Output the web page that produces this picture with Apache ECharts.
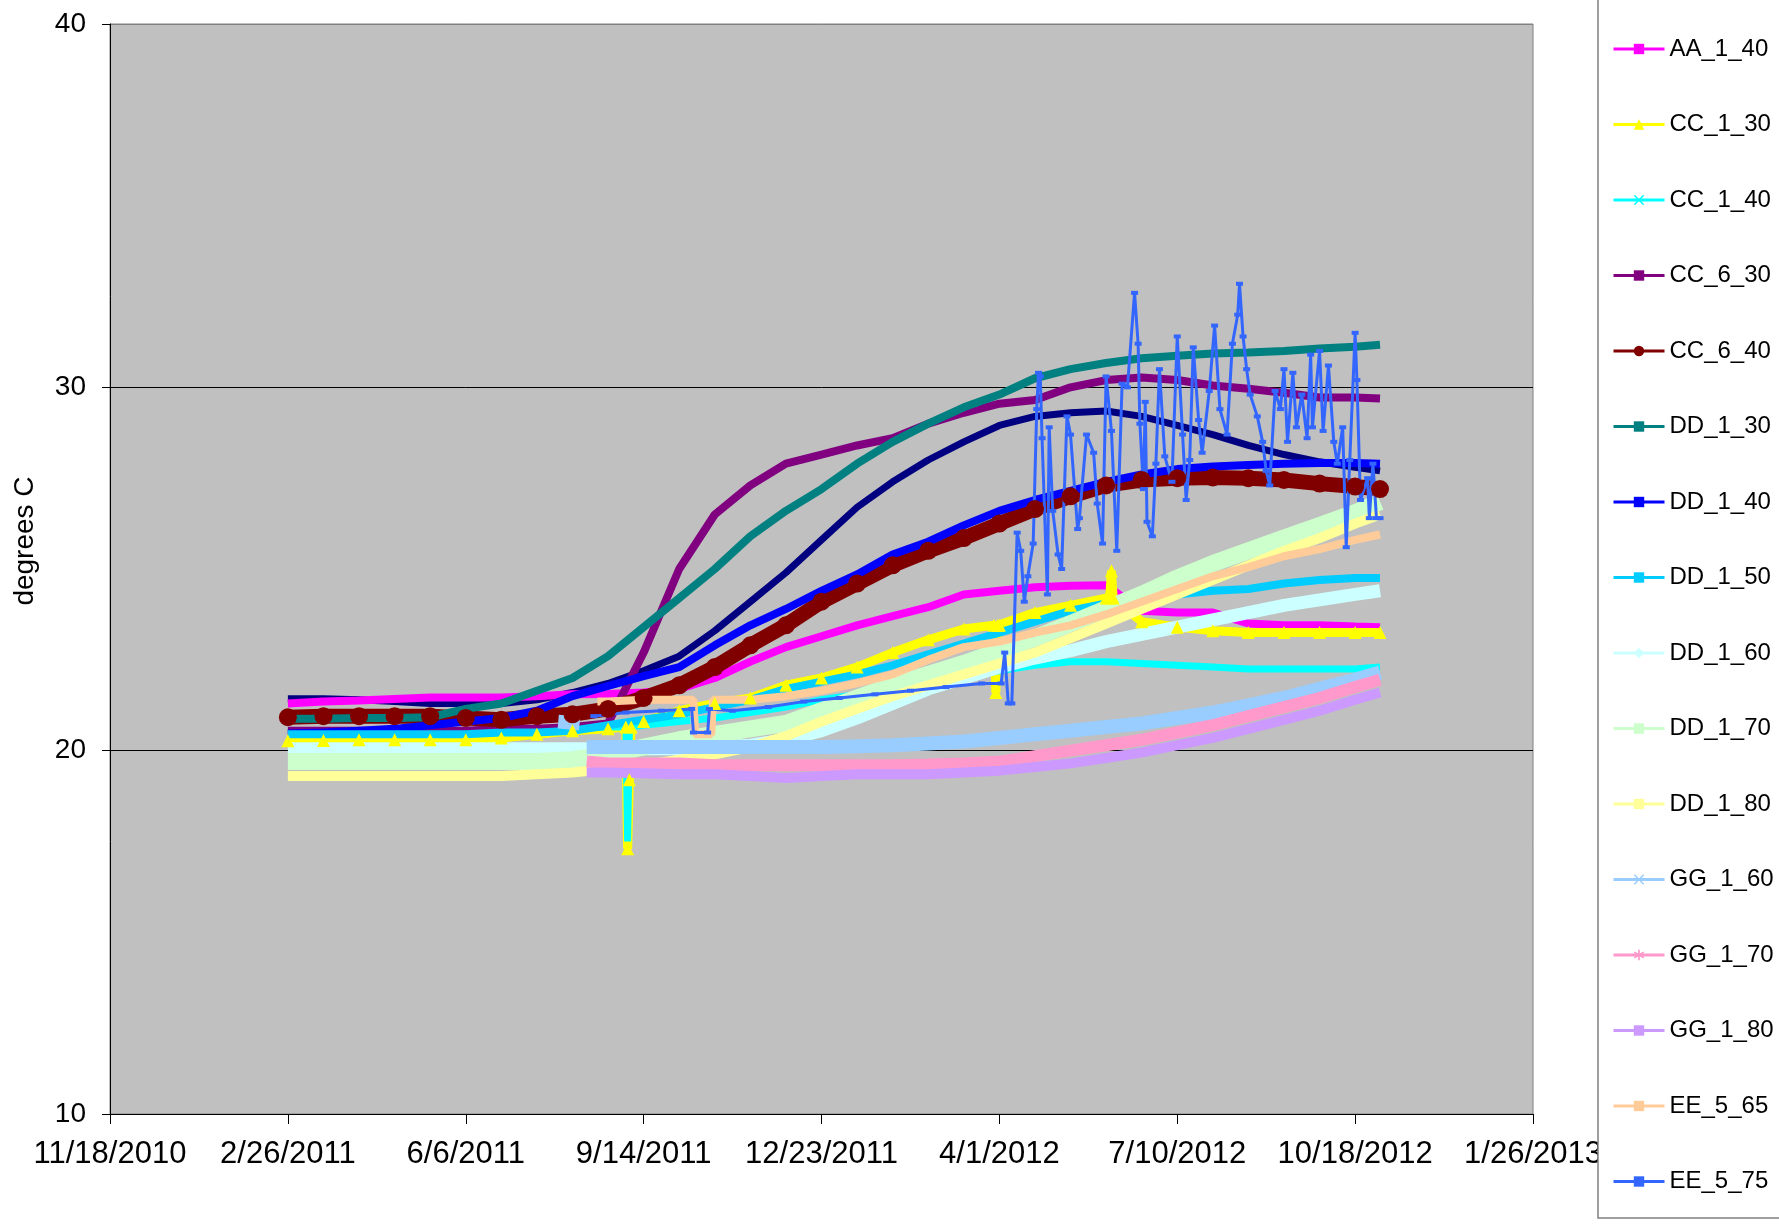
<!DOCTYPE html>
<html>
<head>
<meta charset="utf-8">
<title>degrees C</title>
<script src="https://cdn.jsdelivr.net/npm/echarts@6/dist/echarts.min.js"></script>
<style>
  html, body { margin: 0; padding: 0; background: #fff; }
  #chart { width: 1779px; height: 1225px; }
</style>
</head>
<body>
<div id="chart"></div>
<script>
// x values are Excel serial dates (40500 = 11/18/2010)
const dates = [40600, 40620, 40640, 40660, 40680, 40700, 40720, 40740, 40760, 40780,
  40800, 40820, 40840, 40860, 40880, 40900, 40920, 40940, 40960, 40980,
  41000, 41020, 41040, 41060, 41080, 41100, 41120, 41140, 41160, 41180, 41200, 41214];

// series read at the dates above (null = no reading yet)
const unlisted = [21.43, 21.43, 21.4, 21.35, 21.3, 21.3, 21.3, 21.4, 21.6, 21.85,
  22.2, 22.6, 23.3, 24.1, 24.9, 25.8, 26.7, 27.4, 28.0, 28.5,
  28.95, 29.2, 29.3, 29.35, 29.2, 28.95, 28.7, 28.4, 28.15, 27.95, 27.8, 27.7];
const aa140 = [21.3, 21.35, 21.38, 21.42, 21.46, 21.46, 21.46, 21.5, 21.55, 21.56,
  21.6, 21.7, 22.0, 22.45, 22.85, 23.15, 23.45, 23.7, 23.95, 24.3,
  24.4, 24.5, 24.54, 24.55, 23.85, 23.8, 23.8, 23.5, 23.45, 23.45, 23.42, 23.4];
const cc130 = [20.27, 20.28, 20.3, 20.3, 20.3, 20.3, 20.35, 20.45, 20.55, 20.6,
  20.8, 21.1, 21.3, 21.45, 21.8, 22.0, 22.3, 22.7, 23.05, 23.35,
  23.45, 23.8, 24.0, 24.2, 23.55, 23.4, 23.3, 23.25, 23.25, 23.25, 23.25, 23.25];
const cc140 = [20.5, 20.5, 20.5, 20.5, 20.5, 20.52, 20.55, 20.55, 20.6, 20.65,
  20.7, 20.8, 20.9, 21.05, 21.2, 21.4, 21.55, 21.75, 21.9, 22.05,
  22.2, 22.35, 22.45, 22.45, 22.4, 22.35, 22.3, 22.25, 22.25, 22.25, 22.25, 22.3];
const cc630 = [20.55, 20.55, 20.55, 20.55, 20.55, 20.55, 20.6, 20.6, 20.65, 20.75,
  22.7, 25.0, 26.5, 27.3, 27.9, 28.15, 28.4, 28.6, 29.0, 29.3,
  29.55, 29.65, 30.0, 30.2, 30.27, 30.2, 30.05, 29.96, 29.85, 29.72, 29.72, 29.69];
const cc640 = [20.92, 20.95, 20.95, 20.95, 20.95, 20.9, 20.85, 20.95, 21.0, 21.15,
  21.45, 21.8, 22.3, 22.9, 23.45, 24.1, 24.6, 25.1, 25.5, 25.85,
  26.25, 26.65, 27.0, 27.3, 27.45, 27.5, 27.52, 27.5, 27.45, 27.35, 27.27, 27.2];
const dd130 = [20.88, 20.88, 20.9, 20.9, 20.92, 21.15, 21.3, 21.65, 22.0, 22.6,
  23.4, 24.2, 25.0, 25.9, 26.6, 27.2, 27.9, 28.5, 29.0, 29.45,
  29.8, 30.25, 30.5, 30.67, 30.8, 30.87, 30.93, 30.96, 31.0, 31.07, 31.12, 31.17];
const dd140 = [20.47, 20.5, 20.55, 20.6, 20.7, 20.8, 20.9, 21.1, 21.5, 21.78,
  22.05, 22.3, 22.9, 23.45, 23.9, 24.4, 24.85, 25.4, 25.75, 26.2,
  26.6, 26.9, 27.15, 27.4, 27.6, 27.75, 27.82, 27.86, 27.9, 27.92, 27.92, 27.9];
const dd150 = [20.45, 20.45, 20.45, 20.45, 20.45, 20.45, 20.5, 20.5, 20.55, 20.7,
  20.85, 21.0, 21.2, 21.4, 21.7, 21.9, 22.1, 22.35, 22.65, 22.95,
  23.25, 23.55, 23.85, 24.05, 24.2, 24.3, 24.4, 24.45, 24.6, 24.7, 24.75, 24.75];
const dd160 = [20.05, 20.05, 20.05, 20.05, 20.05, 20.05, 20.05, 20.05, 20.05, 20.05,
  20.05, 20.05, 20.1, 20.15, 20.3, 20.55, 20.9, 21.3, 21.7, 22.0,
  22.3, 22.55, 22.75, 23.0, 23.2, 23.4, 23.6, 23.8, 24.0, 24.15, 24.3, 24.4];
const dd170 = [19.7, 19.7, 19.7, 19.7, 19.7, 19.7, 19.7, 19.7, 19.75, 19.9,
  20.1, 20.3, 20.45, 20.6, 20.75, 21.1, 21.45, 21.8, 22.1, 22.4,
  22.75, 23.1, 23.5, 23.9, 24.3, 24.75, 25.15, 25.5, 25.85, 26.2, 26.55, 26.85];
const dd180 = [19.3, 19.3, 19.3, 19.3, 19.3, 19.3, 19.3, 19.35, 19.4, 19.5,
  19.6, 19.75, 19.9, 20.1, 20.4, 20.8, 21.15, 21.5, 21.8, 22.1,
  22.4, 22.7, 23.1, 23.5, 23.9, 24.3, 24.7, 25.1, 25.5, 25.85, 26.25, 26.5];
const gg160 = [null, null, null, null, null, null, null, null, null, 20.1,
  20.1, 20.1, 20.1, 20.1, 20.1, 20.1, 20.12, 20.15, 20.2, 20.25,
  20.35, 20.45, 20.55, 20.65, 20.75, 20.9, 21.05, 21.25, 21.45, 21.7, 21.95, 22.15];
const gg170 = [null, null, null, null, null, null, null, null, null, 19.65,
  19.65, 19.65, 19.6, 19.6, 19.6, 19.6, 19.6, 19.6, 19.62, 19.65,
  19.7, 19.85, 20.0, 20.15, 20.3, 20.5, 20.7, 20.95, 21.2, 21.45, 21.75, 21.95];
const gg180 = [null, null, null, null, null, null, null, null, null, 19.4,
  19.38, 19.35, 19.35, 19.3, 19.25, 19.3, 19.35, 19.35, 19.35, 19.4,
  19.45, 19.55, 19.65, 19.8, 19.95, 20.15, 20.35, 20.6, 20.85, 21.1, 21.4, 21.6];
const ee565 = [null, null, null, null, null, null, null, null, null, 21.35,
  21.4, 21.4, 21.4, 21.4, 21.5, 21.65, 21.85, 22.1, 22.5, 22.85,
  23.0, 23.25, 23.45, 23.75, 24.1, 24.45, 24.8, 25.05, 25.35, 25.55, 25.8, 25.95];

// odd single readings (spikes, starts, glitches) as [date, value]
const cc130Extra = [[40790, 20.65], [40791, 17.3], [40792, 19.2], [40793, 20.65],
  [40997, 23.45], [40998, 21.6], [40999, 23.45], [41062, 24.2], [41063, 24.95], [41064, 24.2]];
const cc140Extra = [[40790, 20.65], [40791, 17.5], [40792, 20.65]];
const gg160Extra = [[40752, 20.8], [40764, 20.75], [40766, '-'], [40768, 20.1]];
const gg170Extra = [[40768, 19.7]];
const gg180Extra = [[40768, 19.4]];
const ee565Extra = [[40774, 21.35], [40828, 21.4], [40829, 20.45], [40838, 20.45], [40839, 21.4]];

// EE_5_75 is noisy, so it has its own dates
const ee575Dates = [40772, 40790, 40810, 40827, 40828, 40836, 40837, 40850, 40870, 40890,
  40910, 40930, 40950, 40970, 40990, 41001, 41003, 41005, 41007, 41010,
  41012, 41014, 41016, 41019, 41021, 41022, 41023, 41024, 41027, 41028,
  41030, 41033, 41035, 41038, 41040, 41044, 41045, 41049, 41053, 41055,
  41058, 41060, 41063, 41066, 41069, 41072, 41076, 41078, 41079, 41081,
  41082, 41083, 41086, 41088, 41090, 41093, 41097, 41100, 41103, 41105,
  41107, 41109, 41112, 41114, 41118, 41121, 41124, 41128, 41131, 41134,
  41135, 41137, 41139, 41141, 41145, 41148, 41150, 41152, 41155, 41158,
  41160, 41162, 41165, 41167, 41170, 41173, 41175, 41176, 41180, 41182,
  41185, 41188, 41190, 41193, 41195, 41197, 41200, 41201, 41203, 41207,
  41208, 41210, 41212, 41214];
const ee575 = [20.95, 21.05, 21.1, 21.15, 20.5, 20.5, 21.15, 21.1, 21.2, 21.35,
  21.45, 21.55, 21.65, 21.75, 21.85, 21.85, 22.7, 21.3, 21.3, 26.0,
  25.5, 24.1, 24.8, 25.7, 29.4, 30.4, 30.3, 28.6, 24.3, 28.9,
  26.6, 25.4, 25.0, 29.2, 28.7, 26.1, 26.4, 28.7, 28.2, 26.8,
  25.7, 30.3, 28.8, 25.5, 30.1, 30.0, 32.6, 31.2, 29.0, 27.2,
  29.6, 26.3, 25.9, 27.9, 30.5, 28.1, 27.4, 31.4, 28.7, 26.9,
  28.0, 31.1, 29.1, 28.2, 29.9, 31.7, 29.4, 28.7, 31.2, 32.0,
  32.85, 31.4, 30.5, 29.8, 29.2, 28.5, 27.7, 27.3, 29.9, 29.4,
  30.5, 28.5, 30.4, 28.9, 29.8, 28.6, 30.9, 28.9, 31.0, 28.8,
  30.6, 28.5, 27.9, 28.9, 25.6, 28.0, 31.5, 30.2, 26.9, 27.5,
  26.4, 27.9, 26.4, 26.4];

const legendNames = ['AA_1_40', 'CC_1_30', 'CC_1_40', 'CC_6_30', 'CC_6_40', 'DD_1_30', 'DD_1_40', 'DD_1_50',
  'DD_1_60', 'DD_1_70', 'DD_1_80', 'GG_1_60', 'GG_1_70', 'GG_1_80', 'EE_5_65', 'EE_5_75'];

const FONT = '"Liberation Sans", Arial, sans-serif';
const X_MARK = 'path://M0,1L1,0L5,4L9,0L10,1L6,5L10,9L9,10L5,6L1,10L0,9L4,5Z';
const STAR_MARK = 'path://M4.2,0H5.8V3.6L9,1.6L9.8,3L6.6,5L9.8,7L9,8.4L5.8,6.4V10H4.2V6.4L1,8.4L0.2,7L3.4,5L0.2,3L1,1.6L4.2,3.6Z';

// merge the date grid with any extra readings
const build = (vals, extra) => {
  const pts = dates.map((d, i) => [d, vals[i]]).filter((p) => p[1] !== null);
  if (extra) pts.push(...extra);
  pts.sort((a, b) => a[0] - b[0]);
  return pts;
};

const serialToText = (v) => {
  const d = new Date(Date.UTC(1899, 11, 30) + v * 86400000);
  return `${d.getUTCMonth() + 1}/${d.getUTCDate()}/${d.getUTCFullYear()}`;
};

const line = (name, color, data, width, symbol, symbolSize, showSymbol) => ({
  name,
  type: 'line',
  data,
  symbol,
  symbolSize,
  showSymbol: !!showSymbol,
  animation: false,
  silent: true,
  lineStyle: { color, width, join: 'bevel' },
  itemStyle: { color },
  emphasis: { disabled: true }
});

const series = [
  line('unlisted', '#000080', build(unlisted), 7, 'rect', 4),
  line('AA_1_40', '#FF00FF', build(aa140), 8, 'rect', 5),
  line('CC_1_30', '#FFFF00', build(cc130, cc130Extra), 9, 'triangle', 13, true),
  line('CC_1_40', '#00FFFF', build(cc140, cc140Extra), 7, X_MARK, 10),
  line('CC_6_30', '#800080', build(cc630), 8, 'rect', 5),
  line('CC_6_40', '#800000', build(cc640), 15, 'circle', 18, true),
  line('DD_1_30', '#008080', build(dd130), 8, 'rect', 5),
  line('DD_1_40', '#0000FF', build(dd140), 8, 'rect', 5),
  line('DD_1_50', '#00CCFF', build(dd150), 8, 'rect', 6),
  line('DD_1_60', '#CCFFFF', build(dd160), 13, 'diamond', 12),
  line('DD_1_70', '#CCFFCC', build(dd170), 17, 'rect', 12),
  line('DD_1_80', '#FFFF99', build(dd180), 10, 'rect', 5),
  line('GG_1_60', '#99CCFF', build(gg160, gg160Extra), 14, X_MARK, 10),
  line('GG_1_70', '#FF99CC', build(gg170, gg170Extra), 12, STAR_MARK, 10),
  line('GG_1_80', '#CC99FF', build(gg180, gg180Extra), 10, 'rect', 5),
  line('EE_5_65', '#FFCC99', build(ee565, ee565Extra), 8, 'rect', 5),
  line('EE_5_75', '#3366FF', ee575Dates.map((d, i) => [d, ee575[i]]), 3, 'rect', [7, 4], true)
];

const option = {
  backgroundColor: '#fff',
  animation: false,
  textStyle: { fontFamily: FONT },
  grid: {
    left: 110, right: 246, top: 24, bottom: 111,
    show: true, backgroundColor: '#C0C0C0', borderColor: '#808080', borderWidth: 1
  },
  xAxis: {
    type: 'value', min: 40500, max: 41300, interval: 100,
    axisLine: { show: true, onZero: false, lineStyle: { color: '#000', width: 1 } },
    axisTick: { show: true, length: 10, lineStyle: { color: '#000' } },
    axisLabel: { formatter: serialToText, fontSize: 31, color: '#000', margin: 25, fontFamily: FONT },
    splitLine: { show: false }
  },
  yAxis: {
    type: 'value', min: 10, max: 40, interval: 10,
    name: 'degrees C', nameLocation: 'middle', nameRotate: 90, nameGap: 71,
    nameTextStyle: { fontSize: 28, color: '#000', fontFamily: FONT, padding: [0, 0, 0, 56] },
    axisLine: { show: true, onZero: false, lineStyle: { color: '#000', width: 1 } },
    axisTick: { show: true, length: 8, lineStyle: { color: '#000' } },
    axisLabel: { fontSize: 28, color: '#000', margin: 24, fontFamily: FONT },
    splitLine: { show: true, lineStyle: { color: ['#000', '#000', '#000', '#808080'], width: 1 } }
  },
  legend: {
    data: legendNames,
    orient: 'vertical',
    left: 1612, top: 37,
    itemWidth: 51, itemHeight: 13, itemGap: 51.5,
    padding: 0,
    z: 60,
    selectedMode: false,
    lineStyle: { width: 3 },
    itemStyle: { borderWidth: 0 },
    textStyle: { fontSize: 24, color: '#000', fontFamily: FONT }
  },
  graphic: {
    elements: [{
      type: 'rect', z: 50, silent: true,
      shape: { x: 1598, y: -2, width: 300, height: 1220 },
      style: { fill: '#fff', stroke: '#808080', lineWidth: 1.5 }
    }]
  },
  series
};

const myChart = echarts.init(document.getElementById('chart'), null, { renderer: 'canvas' });
myChart.setOption(option);
</script>
</body>
</html>
